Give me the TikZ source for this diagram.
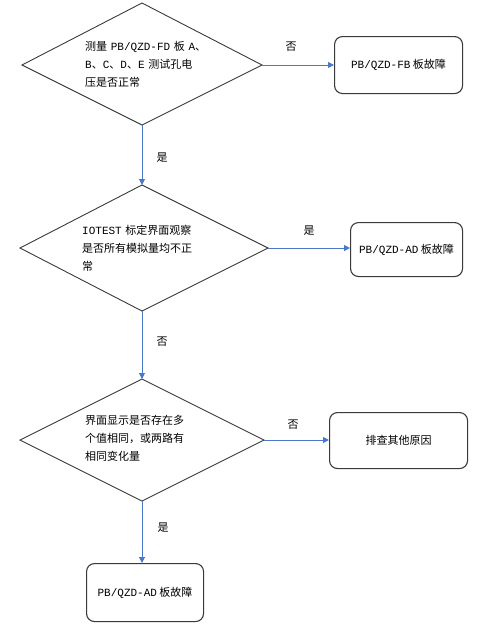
\documentclass[tikz,border=0pt]{standalone}
\usepackage{fontspec}
\setmainfont{Noto Sans CJK SC}
\newfontfamily\mono{Liberation Mono}
\usetikzlibrary{arrows.meta}
\definecolor{lineblue}{HTML}{4A78C8}
\definecolor{edge}{HTML}{3A3A3A}
\tikzset{
  decision/.style={draw=edge, line width=0.9pt},
  termbox/.style={draw=edge, line width=1.1pt, rounded corners=8pt},
  flow/.style={draw=lineblue, line width=1pt, -{Triangle[length=6pt,width=6pt]}},
  lbl/.style={font=\fontsize{11}{13}\selectfont, inner sep=0pt},
  dtext/.style={font=\fontsize{11}{18}\selectfont, align=left, anchor=north west, inner sep=0pt, text width=125pt},
}
\begin{document}
\begin{tikzpicture}[x=1pt,y=-1pt]
\useasboundingbox (0,0) rectangle (480,627);
% decision 1
\coordinate (d1t) at (142,3);
\coordinate (d1r) at (262,65);
\coordinate (d1b) at (142,125);
\coordinate (d1l) at (22,65);
\draw[decision] (d1t) -- (d1r) -- (d1b) -- (d1l) -- cycle;
\node[dtext] (t1) at (85,41) {测量 {\mono PB/QZD-FD} 板 {\mono A}、\\{\mono B}、{\mono C}、{\mono D}、{\mono E} 测试孔电\\压是否正常};
% box 1
\node[termbox, minimum width=128pt, minimum height=57pt, anchor=north west] (b1) at (334,36) {};
\node[lbl] (b1t) at (b1.center) {{\mono PB/QZD-FB} 板故障};
% decision 2
\coordinate (d2t) at (142,185);
\coordinate (d2r) at (268,248);
\coordinate (d2b) at (142,311);
\coordinate (d2l) at (20,248);
\draw[decision] (d2t) -- (d2r) -- (d2b) -- (d2l) -- cycle;
\node[dtext] (t2) at (82,225) {{\mono IOTEST} 标定界面观察\\是否所有模拟量均不正\\常};
% box 2
\node[termbox, minimum width=112pt, minimum height=54pt, anchor=north west] (b2) at (350,222) {};
\node[lbl] (b2t) at (b2.center) {{\mono PB/QZD-AD} 板故障};
% decision 3
\coordinate (d3t) at (142,379);
\coordinate (d3r) at (264,440);
\coordinate (d3b) at (142,501);
\coordinate (d3l) at (20,440);
\draw[decision] (d3t) -- (d3r) -- (d3b) -- (d3l) -- cycle;
\node[dtext] (t3) at (85,415) {界面显示是否存在多\\个值相同，或两路有\\相同变化量};
% box 3
\node[termbox, minimum width=138pt, minimum height=56pt, anchor=north west] (b3) at (329,412) {};
\node[lbl] (b3t) at (b3.center) {排查其他原因};
% box 4
\node[termbox, minimum width=117pt, minimum height=58pt, anchor=north west] (b4) at (86,563) {};
\node[lbl] (b4t) at (b4.center) {{\mono PB/QZD-AD} 板故障};
% connectors
\draw[flow] (d1r) -- (b1.west |- d1r);
\draw[flow] (d1b) -- (d2t);
\draw[flow] (d2r) -- (b2.west |- d2r);
\draw[flow] (d2b) -- (d3t);
\draw[flow] (d3r) -- (b3.west |- d3r);
\draw[flow] (d3b) -- (b4.north -| d3b);
% labels
\node[lbl] (l1) at (291,47) {否};
\node[lbl] (l2) at (162,158) {是};
\node[lbl] (l3) at (309,231) {是};
\node[lbl] (l4) at (162,342) {否};
\node[lbl] (l5) at (293,425) {否};
\node[lbl] (l6) at (163,528) {是};
\end{tikzpicture}
\end{document}
